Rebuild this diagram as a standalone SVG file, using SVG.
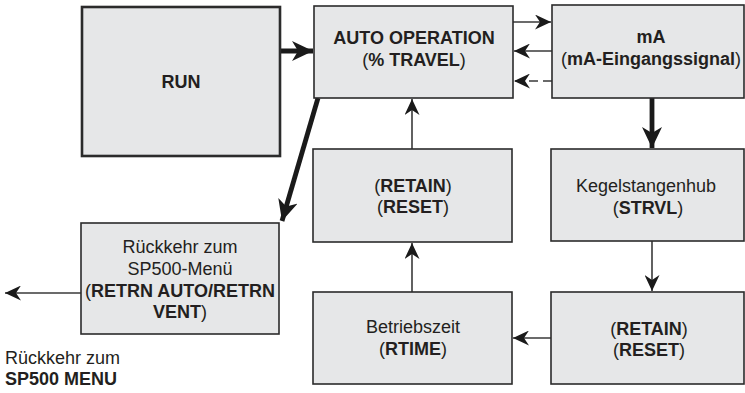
<svg xmlns="http://www.w3.org/2000/svg" width="745" height="393" viewBox="0 0 745 393">
  <style>
    .box { fill: #e6e7e8; stroke: #2b2b2b; stroke-width: 1.6; }
    .box-heavy { fill: #e6e7e8; stroke: #2b2b2b; stroke-width: 2.6; }
    text { font-family: "Liberation Sans", Arial, sans-serif; font-size: 18px; fill: #231f20; text-anchor: middle; }
    .b { font-weight: bold; }
    .thin { stroke: #3a3a3a; stroke-width: 1.6; fill: none; marker-end: url(#headThin); }
    .thick { stroke: #1a1a1a; stroke-width: 4.8; fill: none; marker-end: url(#headThick); }
    .dash { stroke-dasharray: 9 5; }
  </style>
  <defs>
    <marker id="headThin" markerUnits="userSpaceOnUse" markerWidth="17" markerHeight="15" refX="16" refY="7.5" orient="auto">
      <path d="M0,0 L16,7.5 L0,15 L5,7.5 Z" fill="#1a1a1a"/>
    </marker>
    <marker id="headThick" markerUnits="userSpaceOnUse" markerWidth="22" markerHeight="20" refX="21" refY="10" orient="auto">
      <path d="M0,0 L21,10 L0,20 L6,10 Z" fill="#1a1a1a"/>
    </marker>
  </defs>

  <!-- connectors -->
  <g id="connectors">
    <line class="thick" x1="280" y1="51" x2="313" y2="51"/>
    <line class="thin" x1="513" y1="22" x2="551" y2="22"/>
    <line class="thin" x1="552" y1="51" x2="514" y2="51"/>
    <line class="thin dash" x1="552" y1="81" x2="514" y2="81"/>
    <line class="thick" x1="652" y1="98" x2="652" y2="148"/>
    <line class="thin" x1="652" y1="241" x2="652" y2="291"/>
    <line class="thin" x1="551" y1="338" x2="513" y2="338"/>
    <line class="thin" x1="412" y1="292" x2="412" y2="243"/>
    <line class="thin" x1="412" y1="149" x2="412" y2="99"/>
    <line class="thick" x1="318" y1="98" x2="282" y2="221"/>
    <line class="thin" x1="81" y1="293" x2="5" y2="293"/>
  </g>

  <g id="run">
    <rect class="box-heavy" x="82" y="7" width="198" height="149"/>
    <text x="181" y="88" class="b">RUN</text>
  </g>

  <g id="auto-operation">
    <rect class="box" x="314" y="6" width="199" height="92"/>
    <text x="414" y="44" class="b">AUTO OPERATION</text>
    <text x="414" y="66">(<tspan class="b">% TRAVEL</tspan>)</text>
  </g>

  <g id="ma">
    <rect class="box" x="552" y="5" width="192" height="93"/>
    <text x="651" y="43" class="b">mA</text>
    <text x="651" y="65">(<tspan class="b">mA-Eingangssignal</tspan>)</text>
  </g>

  <g id="retain-reset-left">
    <rect class="box" x="313" y="149" width="199" height="93"/>
    <text x="413" y="192">(<tspan class="b">RETAIN</tspan>)</text>
    <text x="413" y="213">(<tspan class="b">RESET</tspan>)</text>
  </g>

  <g id="strvl">
    <rect class="box" x="551" y="149" width="193" height="92"/>
    <text x="646" y="192">Kegelstangenhub</text>
    <text x="648" y="214">(<tspan class="b">STRVL</tspan>)</text>
  </g>

  <g id="rtime">
    <rect class="box" x="313" y="292" width="199" height="92"/>
    <text x="413" y="333">Betriebszeit</text>
    <text x="413" y="355">(<tspan class="b">RTIME</tspan>)</text>
  </g>

  <g id="retain-reset-right">
    <rect class="box" x="551" y="292" width="193" height="92"/>
    <text x="649" y="335">(<tspan class="b">RETAIN</tspan>)</text>
    <text x="649" y="356">(<tspan class="b">RESET</tspan>)</text>
  </g>

  <g id="return-menu">
    <rect class="box" x="81" y="223" width="198" height="111"/>
    <text x="180" y="253">Rückkehr zum</text>
    <text x="180" y="275">SP500-Menü</text>
    <text x="180" y="297">(<tspan class="b">RETRN AUTO/RETRN</tspan></text>
    <text x="180" y="318"><tspan class="b">VENT</tspan>)</text>
  </g>

  <g id="return-label">
    <text x="5" y="364" style="text-anchor:start">Rückkehr zum</text>
    <text x="5" y="385" class="b" style="text-anchor:start">SP500 MENU</text>
  </g>
</svg>
